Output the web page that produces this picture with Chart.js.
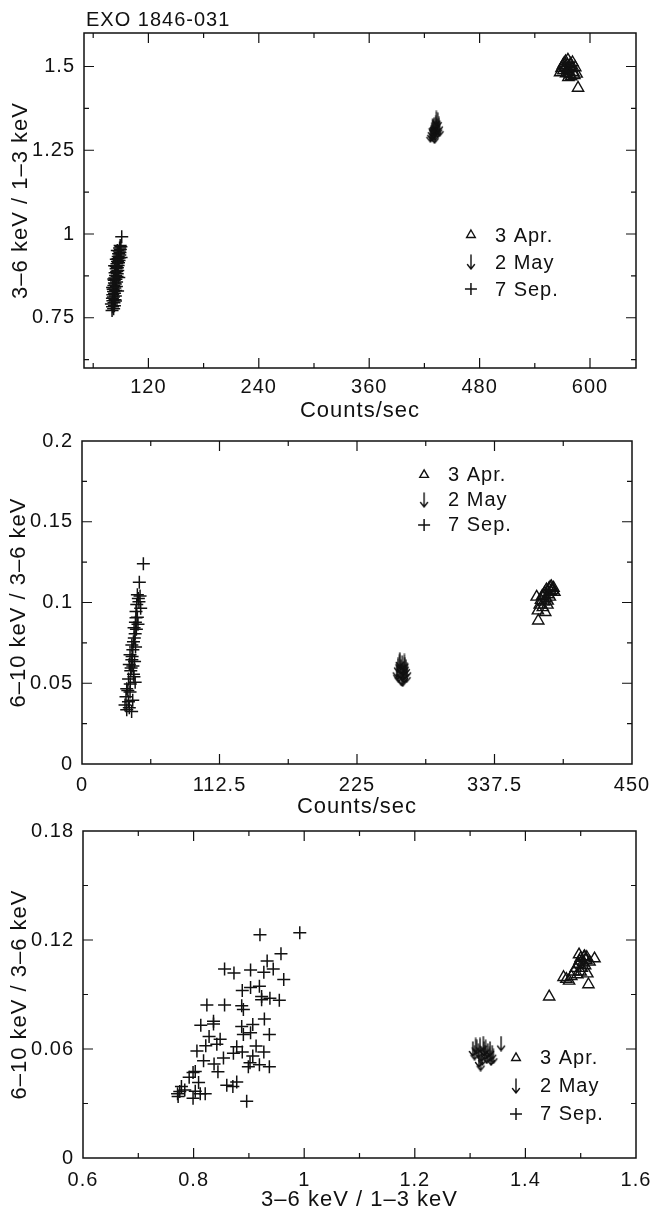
<!DOCTYPE html>
<html>
<head>
<meta charset="utf-8">
<script src="https://cdn.jsdelivr.net/npm/chart.js@4.4.0/dist/chart.umd.min.js"></script>
<style>
  body { margin: 0; background: #fff; width: 665px; height: 1213px; position: relative; overflow: hidden; }
  canvas { position: absolute; left: 0; }
</style>
</head>
<body>
<canvas id="c1" width="665" height="425" style="top:0"></canvas>
<canvas id="c2" width="665" height="400" style="top:420px"></canvas>
<canvas id="c3" width="665" height="403" style="top:810px"></canvas>
<script>
// ---- data ----
const seriesNames = ['3 Apr.', '2 May', '7 Sep.'];

// panel 1: counts/sec vs (3-6 keV / 1-3 keV)
const p1Apr = [[567.5,1.482],[569,1.495],[570.5,1.503],[571,1.488],[572,1.51],[573,1.498],[573.5,1.515],[574,1.479],
  [575,1.505],[575.5,1.492],[576,1.52],[577,1.486],[577.5,1.5],[578,1.476],[579,1.508],[579.5,1.47],[580,1.495],
  [581,1.512],[582,1.483],[583,1.474],[584,1.497],[585.5,1.478],[587,1.436],[576.5,1.468]];
const p1May = [[426.5,1.296],[427.5,1.302],[428,1.31],[428.8,1.299],[429.5,1.318],[430,1.306],[430.6,1.325],[431.2,1.312],
  [431.8,1.3],[432.3,1.33],[432.8,1.316],[433.4,1.322],[434,1.309],[434.5,1.34],[435,1.318],[435.8,1.327],[436.5,1.313],
  [433,1.345],[429,1.322],[431,1.292]];
const p1Sep = [[80.5,0.772],[82.2,0.777],[81,0.783],[83.1,0.786],[79.8,0.791],[82.6,0.795],[81.4,0.801],[83.7,0.804],
  [80.9,0.808],[82,0.812],[84.1,0.815],[81.3,0.819],[83.2,0.823],[82.1,0.828],[84.4,0.831],[81.7,0.835],[83.5,0.839],
  [85.2,0.843],[82.5,0.846],[84,0.851],[83.1,0.854],[85.4,0.857],[82.9,0.862],[84.7,0.865],[83.5,0.869],[85.9,0.873],
  [84.3,0.876],[86.1,0.881],[83.8,0.884],[85.5,0.888],[86.7,0.891],[84.9,0.896],[86.3,0.899],[85.1,0.903],[87.1,0.906],
  [85.8,0.911],[87.5,0.914],[86.4,0.918],[88.1,0.921],[86.9,0.926],[88.5,0.929],[87.2,0.933],[88.9,0.937],[87.6,0.941],
  [89.1,0.945],[88.3,0.949],[89.5,0.954],[88.7,0.958],[90.1,0.962],[89.3,0.966],[91,0.992],[84.2,0.8],[86.5,0.83],
  [81.1,0.84],[87.8,0.87],[83.3,0.905],[90.3,0.93],[85.1,0.925],[82.4,0.866],[86.2,0.951]];
const p1XTicks = [60,120,180,240,300,360,420,480,540,600];
const p1XLabels = [120,240,360,480,600];
const p1YTicks = [0.625,0.75,0.875,1,1.125,1.25,1.375,1.5];
const p1YLabels = [0.75,1,1.25,1.5];

// panel 2: counts/sec vs (6-10 keV / 3-6 keV)
const p2Apr = [[373.3,0.0887],[372,0.1035],[373,0.095],[374.5,0.0985],[375.5,0.1015],[376.5,0.104],[377,0.097],[378,0.1005],
  [378.5,0.106],[379.5,0.1025],[380,0.108],[380.8,0.0985],[381.5,0.105],[382,0.1085],[382.8,0.1035],[383.5,0.107],
  [384,0.11],[385,0.1075],[385.8,0.109],[386.5,0.1065],[379,0.094],[381,0.101],[383,0.1095],[377.8,0.1045]];
const p2May = [[257.5,0.058],[258.5,0.061],[259,0.055],[259.8,0.063],[260.5,0.057],[261,0.06],[261.5,0.053],[262,0.0625],
  [262.6,0.056],[263,0.059],[263.5,0.0545],[264,0.0615],[264.5,0.057],[265,0.06],[265.6,0.055],[260,0.0645],
  [262.3,0.0525],[263.8,0.0635],[258,0.0565],[266,0.058]];
const p2Sep = [[50.2,0.124],[46.9,0.1125],[45.3,0.1048],[46.1,0.1024],[44.8,0.0988],[44.2,0.0944],[45.3,0.0908],
  [43.7,0.0878],[42.6,0.0843],[43.5,0.0807],[42.1,0.0757],[40.8,0.0737],[41.6,0.0707],[39.3,0.0677],[40.8,0.0646],
  [38.7,0.0616],[41.6,0.0607],[39.9,0.0577],[42.1,0.0556],[38.1,0.0526],[43.5,0.0506],[36.6,0.0466],[39.3,0.0446],
  [36,0.0416],[38,0.0386],[35.2,0.0366],[38.7,0.0349],[36.6,0.0336],[40.6,0.0325],[41.5,0.0395],[37.5,0.0455],
  [39.5,0.0495],[42.5,0.054],[40.2,0.0595],[43,0.0635],[41,0.0665],[43.8,0.0725],[42.8,0.078],[44.5,0.0835],
  [45.8,0.0865],[44.2,0.0905],[46.6,0.1005],[47.5,0.104],[48,0.0965]];
const p2XTicks = [56.25,112.5,168.75,225,281.25,337.5,393.75];
const p2XLabels = [0,112.5,225,337.5,450];
const p2YTicks = [0.025,0.05,0.075,0.1,0.125,0.15,0.175];
const p2YLabels = [0,0.05,0.1,0.15,0.2];

// panel 3: (3-6 keV / 1-3 keV) vs (6-10 keV / 3-6 keV)
const p3Apr = [[1.443,0.0888],[1.469,0.0995],[1.474,0.0985],[1.479,0.0975],[1.483,0.1],[1.488,0.1025],[1.491,0.1045],
  [1.494,0.101],[1.496,0.1065],[1.498,0.1085],[1.5,0.11],[1.502,0.1045],[1.504,0.1075],[1.506,0.1105],[1.508,0.106],
  [1.51,0.109],[1.512,0.1015],[1.514,0.0955],[1.516,0.108],[1.5,0.1025],[1.507,0.111],[1.525,0.1098],[1.497,0.112],
  [1.511,0.1105]];
const p3May = [[1.305,0.06],[1.308,0.058],[1.312,0.061],[1.315,0.059],[1.318,0.062],[1.32,0.057],[1.322,0.055],
  [1.325,0.06],[1.327,0.058],[1.33,0.056],[1.332,0.059],[1.335,0.057],[1.338,0.055],[1.34,0.058],[1.316,0.054],
  [1.324,0.063],[1.31,0.062],[1.328,0.061],[1.342,0.056],[1.356,0.063],[1.319,0.052],[1.336,0.06]];
const p3Sep = [[0.92,0.1229],[0.992,0.124],[0.958,0.1124],[0.933,0.1084],[0.944,0.104],[0.927,0.1022],[0.903,0.1035],
  [0.856,0.104],[0.873,0.1019],[0.963,0.0982],[0.888,0.0922],[0.903,0.0938],[0.919,0.0945],[0.923,0.0889],[0.938,0.088],
  [0.955,0.0869],[0.824,0.0842],[0.856,0.0842],[0.887,0.0838],[0.89,0.0818],[0.928,0.0765],[0.813,0.0731],[0.836,0.0738],
  [0.887,0.0724],[0.907,0.0735],[0.937,0.068],[0.89,0.068],[0.903,0.0689],[0.828,0.0669],[0.848,0.0653],[0.842,0.0626],
  [0.822,0.0618],[0.806,0.0589],[0.878,0.0613],[0.872,0.0577],[0.888,0.0584],[0.913,0.0616],[0.927,0.0584],[0.907,0.0562],
  [0.854,0.0551],[0.818,0.0535],[0.837,0.0517],[0.902,0.0524],[0.919,0.0513],[0.937,0.0502],[0.899,0.0502],[0.844,0.0475],
  [0.803,0.0476],[0.792,0.0444],[0.809,0.0416],[0.86,0.04],[0.878,0.0418],[0.871,0.0393],[0.778,0.0393],[0.784,0.0375],
  [0.775,0.0366],[0.803,0.0367],[0.821,0.0353],[0.772,0.0338],[0.799,0.0329],[0.812,0.0353],[0.896,0.0313],[0.799,0.047],
  [0.923,0.0871],[0.836,0.0753],[0.771,0.0353]];
const p3XTicks = [0.7,0.8,0.9,1,1.1,1.2,1.3,1.4,1.5];
const p3XLabels = [0.6,0.8,1,1.2,1.4,1.6];
const p3YTicks = [0.03,0.06,0.09,0.12,0.15];
const p3YLabels = [0,0.06,0.12,0.18];

// ---- drawing ----
const FONT = 'Liberation Sans, Arial, sans-serif';
const INK = '#111';

function makeArrow() {
  const c = document.createElement('canvas');
  c.width = 12; c.height = 16;
  const g = c.getContext('2d');
  g.strokeStyle = INK; g.lineWidth = 1.4; g.lineCap = 'round';
  g.beginPath();
  g.moveTo(6, 1); g.lineTo(6, 15);
  g.moveTo(2.5, 10.5); g.lineTo(6, 15); g.lineTo(9.5, 10.5);
  g.stroke();
  return c;
}
const arrow = makeArrow();

// frame with inward ticks on all four sides, plus the legend and title
const framePlugin = {
  id: 'frame',
  beforeDraw(chart) {
    chart.ctx.letterSpacing = '1px';
  },
  afterDatasetsDraw(chart, args, o) {
    const {ctx, chartArea: a, scales: {x, y}} = chart;
    ctx.save();
    ctx.strokeStyle = INK;
    ctx.lineWidth = 1.5;
    ctx.strokeRect(a.left, a.top, a.right - a.left, a.bottom - a.top);
    ctx.lineWidth = 1.2;
    ctx.beginPath();
    o.xTicks.forEach(v => {
      const px = x.getPixelForValue(v);
      const len = o.xLabels.includes(v) ? 10 : 5;
      ctx.moveTo(px, a.bottom); ctx.lineTo(px, a.bottom - len);
      ctx.moveTo(px, a.top); ctx.lineTo(px, a.top + len);
    });
    o.yTicks.forEach(v => {
      const py = y.getPixelForValue(v);
      const len = o.yLabels.includes(v) ? 10 : 5;
      ctx.moveTo(a.left, py); ctx.lineTo(a.left + len, py);
      ctx.moveTo(a.right, py); ctx.lineTo(a.right - len, py);
    });
    ctx.stroke();

    // legend
    const lx = a.left + o.legend.fx * (a.right - a.left);
    let ly = a.top + o.legend.fy * (a.bottom - a.top);
    ctx.font = '20px ' + FONT;
    ctx.textBaseline = 'middle';
    ctx.textAlign = 'left';
    chart.data.datasets.forEach(ds => {
      ctx.lineWidth = ds.borderWidth;
      ctx.strokeStyle = INK;
      ctx.fillStyle = 'rgba(0,0,0,0)';
      Chart.helpers.drawPoint(ctx, {pointStyle: ds.pointStyle, radius: ds.legendRadius, borderWidth: ds.borderWidth, rotation: 0}, lx, ly);
      ctx.fillStyle = INK;
      ctx.fillText(ds.label, lx + 24, ly + 1);
      ly += o.legend.step;
    });

    if (o.title) {
      ctx.font = '20px ' + FONT;
      ctx.textBaseline = 'alphabetic';
      ctx.fillText(o.title, 86, 26);
    }
    ctx.restore();
  }
};

function axis(min, max, ticks, labels, title, box, pad, titlePad, isX) {
  return {
    type: 'linear',
    min: min, max: max,
    afterBuildTicks: ax => { ax.ticks = [min, ...ticks, max].map(v => ({value: v})); },
    afterFit: ax => { if (isX) ax.height = box; else ax.width = box; },
    grid: {display: false, drawTicks: false},
    border: {display: false},
    ticks: {
      autoSkip: false, maxRotation: 0, minRotation: 0,
      padding: pad, color: INK,
      font: {family: FONT, size: 20},
      callback: v => labels.includes(v) ? String(v) : ''
    },
    title: {display: true, text: title, color: INK, font: {family: FONT, size: 22}, padding: titlePad}
  };
}

function panel(id, apr, may, sep, scales, padding, frameOpts) {
  const pts = arr => arr.map(p => ({x: p[0], y: p[1]}));
  return new Chart(document.getElementById(id), {
    type: 'scatter',
    data: {
      datasets: [
        {label: seriesNames[0], data: pts(apr), pointStyle: 'triangle', pointRadius: 6.5, legendRadius: 5,
         borderColor: INK, backgroundColor: 'rgba(0,0,0,0)', borderWidth: 1.4},
        {label: seriesNames[1], data: pts(may), pointStyle: arrow, pointRadius: 7, legendRadius: 6,
         borderColor: INK, backgroundColor: INK, borderWidth: 1.4},
        {label: seriesNames[2], data: pts(sep), pointStyle: 'cross', pointRadius: 6.5, legendRadius: 6,
         borderColor: INK, backgroundColor: INK, borderWidth: 1.5}
      ]
    },
    options: {
      responsive: false,
      animation: false,
      events: [],
      layout: {padding: padding},
      plugins: {legend: {display: false}, tooltip: {enabled: false}, frame: frameOpts},
      scales: scales
    },
    plugins: [framePlugin]
  });
}

panel('c1', p1Apr, p1May, p1Sep, {
  x: axis(50, 650, p1XTicks, p1XLabels, 'Counts/sec', 57, 7, {top: 0, bottom: 1}, true),
  y: axis(0.6, 1.6, p1YTicks, p1YLabels, '3–6 keV / 1–3 keV', 84, 9, {top: 8, bottom: 0}, false)
}, {left: 0, right: 29, top: 33, bottom: 0}, {
  xTicks: p1XTicks, xLabels: p1XLabels, yTicks: p1YTicks, yLabels: p1YLabels,
  legend: {fx: 0.701, fy: 0.603, step: 27}, title: 'EXO 1846-031'
});

panel('c2', p2Apr, p2May, p2Sep, {
  x: axis(0, 450, p2XTicks, p2XLabels, 'Counts/sec', 56, 9, {top: 0, bottom: 0}, true),
  y: axis(0, 0.2, p2YTicks, p2YLabels, '6–10 keV / 3–6 keV', 82, 9, {top: 6, bottom: 0}, false)
}, {left: 0, right: 33, top: 12, bottom: 0}, {
  xTicks: p2XTicks, xLabels: p2XLabels, yTicks: p2YTicks, yLabels: p2YLabels,
  legend: {fx: 0.622, fy: 0.105, step: 25}
});

panel('c3', p3Apr, p3May, p3Sep, {
  x: axis(0.6, 1.6, p3XTicks, p3XLabels, '3–6 keV / 1–3 keV', 55, 10, {top: 0, bottom: 0}, true),
  y: axis(0, 0.18, p3YTicks, p3YLabels, '6–10 keV / 3–6 keV', 83, 9, {top: 7, bottom: 0}, false)
}, {left: 0, right: 29, top: 18, bottom: 0}, {
  xTicks: p3XTicks, xLabels: p3XLabels, yTicks: p3YTicks, yLabels: p3YLabels,
  legend: {fx: 0.783, fy: 0.694, step: 28}
});
</script>
</body>
</html>
